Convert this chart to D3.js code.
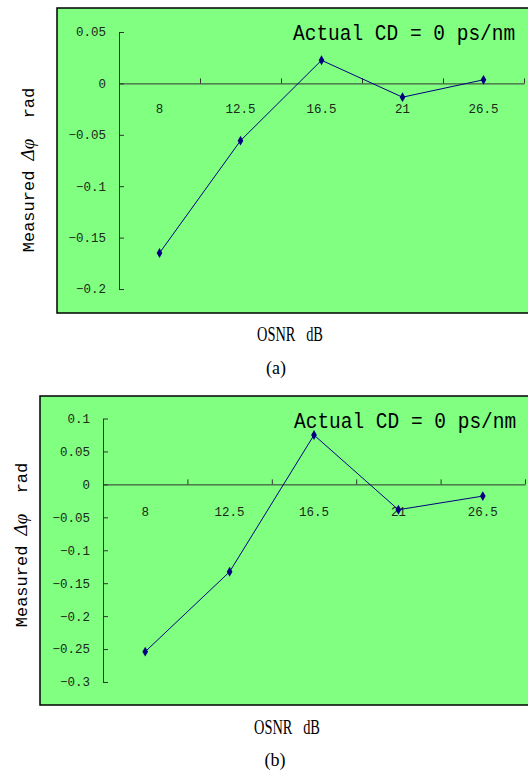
<!DOCTYPE html>
<html><head><meta charset="utf-8">
<script src="https://cdn.jsdelivr.net/npm/d3@7"></script>
<style>
html,body{margin:0;padding:0;background:#fff;}
svg{display:block;}
text{white-space:pre;}
</style></head>
<body>
<svg id="c" width="528" height="770"></svg>
<script>
// ---- data ----
const categories = ["8", "12.5", "16.5", "21", "26.5"];
const seriesA = [-0.165, -0.0557, 0.0225, -0.0134, 0.0035];
const seriesB = [-0.254, -0.1327, 0.0749, -0.0385, -0.0178];
const yTicksA = [0.05, 0, -0.05, -0.1, -0.15, -0.2];
const yTicksB = [0.1, 0.05, 0, -0.05, -0.1, -0.15, -0.2, -0.25, -0.3];
const titleText = "Actual CD = 0 ps/nm";
const xTitle = "OSNR   dB";

const panels = [
  {values: seriesA, ticks: yTicksA, domain: [-0.2, 0.05], caption: "(a)",
   rect: {x: 57, y: 8, h: 305}, xr: [119, 524], yr: [289, 32],
   tickLabelOff: 30, titlePos: [293, 40], yLabel: [28, 170], xTitlePos: [290, 341], capPos: [276, 374]},
  {values: seriesB, ticks: yTicksB, domain: [-0.3, 0.1], caption: "(b)",
   rect: {x: 40, y: 396, h: 309}, xr: [103, 525], yr: [682, 418.5],
   tickLabelOff: 32, titlePos: [294, 428], yLabel: [21, 545], xTitlePos: [287, 734], capPos: [275, 766]}
];

const svg = d3.select("#c");
const fmt = v => v === 0 ? "0" : (v < 0 ? "\u2212" : "") + String(Math.abs(v));

panels.forEach(p => {
  const g = svg.append("g");
  g.append("rect").attr("x", p.rect.x).attr("y", p.rect.y)
    .attr("width", 600).attr("height", p.rect.h)
    .attr("fill", "#80FF80").attr("stroke", "#000").attr("stroke-width", 1.5);

  const x = d3.scaleBand().domain(categories).range(p.xr);
  const y = d3.scaleLinear().domain(p.domain).range(p.yr);

  // y axis
  const yAx = g.append("g").attr("transform", `translate(${p.xr[0]},0)`)
    .call(d3.axisRight(y).tickValues(p.ticks).tickSize(5).tickSizeOuter(0).tickFormat(""));
  yAx.select(".domain").attr("stroke", "#333");
  yAx.selectAll(".tick line").attr("stroke", "#333");
  g.selectAll(".ylab").data(p.ticks).join("text")
    .attr("x", p.xr[0] - 13).attr("y", d => y(d)).attr("dy", "0.35em")
    .attr("text-anchor", "end").attr("font-family", "Liberation Mono, monospace")
    .attr("font-size", 12.5).attr("fill", "#1a2a1a").text(fmt);

  // x axis at y=0
  const xAx = g.append("g").attr("transform", `translate(0,${y(0)})`)
    .call(d3.axisTop(d3.scaleLinear().domain([0, categories.length]).range(p.xr))
      .tickValues(d3.range(1, categories.length + 1)).tickSize(5).tickSizeOuter(0).tickFormat(""));
  xAx.select(".domain").attr("stroke", "#333");
  xAx.selectAll(".tick line").attr("stroke", "#333");
  g.selectAll(".xlab").data(categories).join("text")
    .attr("x", d => x(d) + x.bandwidth() / 2).attr("y", y(0) + p.tickLabelOff)
    .attr("text-anchor", "middle").attr("font-family", "Liberation Mono, monospace")
    .attr("font-size", 12.5).attr("fill", "#1a2a1a").text(d => d);

  // line + markers
  const line = d3.line().x((d, i) => x(categories[i]) + x.bandwidth() / 2).y(d => y(d));
  g.append("path").datum(p.values).attr("d", line)
    .attr("fill", "none").attr("stroke", "#000080").attr("stroke-width", 1);
  g.selectAll(".pt").data(p.values).join("path")
    .attr("d", d3.symbol(d3.symbolDiamond, 28))
    .attr("transform", (d, i) => `translate(${x(categories[i]) + x.bandwidth() / 2},${y(d)})`)
    .attr("fill", "#000080");

  // title
  g.append("text").attr("transform", `translate(${p.titlePos[0]},${p.titlePos[1]}) scale(1,1.12)`)
    .attr("font-family", "Liberation Mono, monospace").attr("font-size", 19.5)
    .attr("fill", "#000").text(titleText);

  // y label
  const yl = g.append("text")
    .attr("transform", `translate(${p.yLabel[0]},${p.yLabel[1]}) rotate(-90)`)
    .attr("text-anchor", "middle").attr("dy", "0.35em")
    .attr("font-family", "Liberation Mono, monospace").attr("font-size", 17).attr("fill", "#000");
  yl.append("tspan").text("Measured ");
  yl.append("tspan").attr("font-family", "Liberation Serif, serif").attr("font-style", "italic")
    .attr("font-size", 19).text("\u0394\u03C6");
  yl.append("tspan").text("  rad");

  // x title
  g.append("text").attr("transform", `translate(${p.xTitlePos[0]},${p.xTitlePos[1]}) scale(0.72,1)`)
    .attr("text-anchor", "middle").attr("font-family", "Liberation Serif, serif")
    .attr("font-size", 20).attr("fill", "#000").text(xTitle);

  // caption
  g.append("text").attr("x", p.capPos[0]).attr("y", p.capPos[1])
    .attr("text-anchor", "middle").attr("font-family", "Liberation Serif, serif")
    .attr("font-size", 18).attr("fill", "#000").text(p.caption);
});
</script>
</body></html>
